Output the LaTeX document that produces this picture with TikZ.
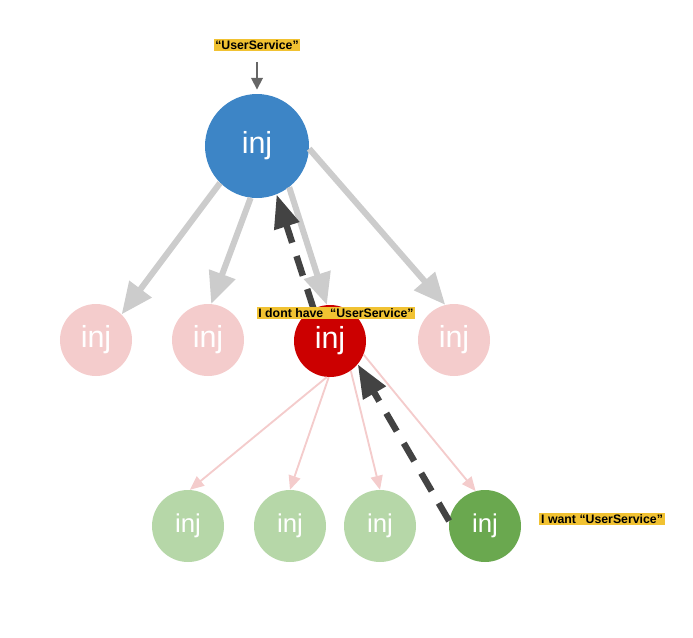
\documentclass[tikz,border=0pt]{standalone}
\usepackage{fontspec}
\setmainfont{Liberation Sans}
\usetikzlibrary{arrows.meta,positioning}
\definecolor{injblue}{HTML}{3D85C6}
\definecolor{injpink}{HTML}{F4CCCC}
\definecolor{injred}{HTML}{CC0000}
\definecolor{injlgreen}{HTML}{B6D7A8}
\definecolor{injdgreen}{HTML}{6AA84F}
\definecolor{tagyellow}{HTML}{F1C232}
\definecolor{arrgray}{HTML}{CCCCCC}
\definecolor{arrdark}{HTML}{434343}
\definecolor{arrmid}{HTML}{666666}

\begin{document}
\begin{tikzpicture}[
  x=0.03cm, y=-0.03cm,
  inj/.style={circle, draw=none, text=white, inner sep=0pt,
              font=\fontsize{26}{28}\selectfont},
  rootinj/.style={inj, fill=injblue, minimum size=3.12cm},
  midinj/.style={inj, fill=injpink, minimum size=2.16cm},
  redinj/.style={inj, fill=injred, minimum size=2.16cm},
  leafinj/.style={inj, fill=injlgreen, minimum size=2.16cm,
                  font=\fontsize{22}{24}\selectfont},
  askinj/.style={leafinj, fill=injdgreen},
  tag/.style={fill=tagyellow, inner xsep=1.5pt, inner ysep=1.2pt,
              font=\bfseries\fontsize{10.5}{12}\selectfont},
  garr/.style={draw=arrgray, line width=5.2pt,
               -{Triangle[length=0.95cm,width=0.8cm]}},
  parr/.style={draw=injpink, line width=1.6pt,
               -{Triangle[length=0.42cm,width=0.36cm]}},
  darr/.style={draw=arrdark, line width=5.5pt, dash pattern=on 0.62cm off 0.42cm,
               -{Triangle[length=1cm,width=0.75cm]}},
  karr/.style={draw=arrmid, line width=2.5pt,
               -{Triangle[length=0.36cm,width=0.34cm]}}
]
\useasboundingbox (0,0) rectangle (693,637);

% injector tree
\node[rootinj] (root) at (257,146) {inj};
\node[midinj]  (m1)   at (96,340)  {inj};
\node[midinj]  (m2)   at (208,340) {inj};
\node[redinj]  (m3)   at (330,341) {inj};
\node[midinj]  (m4)   at (454,340) {inj};
\node[leafinj] (l1)   at (188,526) {inj};
\node[leafinj] (l2)   at (290,526) {inj};
\node[leafinj] (l3)   at (380,526) {inj};
\node[askinj]  (l4)   at (485,526) {inj};

% parent to child
\draw[garr] (root.-135) -- (m1.45);
\draw[garr] (root.-97) -- (m2.85);
\draw[garr] (root.-52) -- (m3.95);
\draw[garr] (root.-3) -- (m4.104);
\draw[parr] (m3.-95) -- (l1.87);
\draw[parr] (m3.-92) -- (l2.90);
\draw[parr] (m3.-55) -- (l3.90);
\draw[parr] (m3.-22) -- (l4.105);

% lookup going up
\draw[darr] (l4.172) -- (m3.-40);
\draw[darr] (m3.117) -- (root.-68);

% labels
\node[tag, above=1.29cm of root] (token) {“UserService”};
\draw[karr, shorten <=0.33cm, shorten >=0.12cm] (token) -- (root);
\node[tag] (nohave) at (336,313) {I dont have\ \ “UserService”};
\node[tag, right=0.54cm of l4, yshift=0.2cm] (want) {I want “UserService”};
\end{tikzpicture}
\end{document}
